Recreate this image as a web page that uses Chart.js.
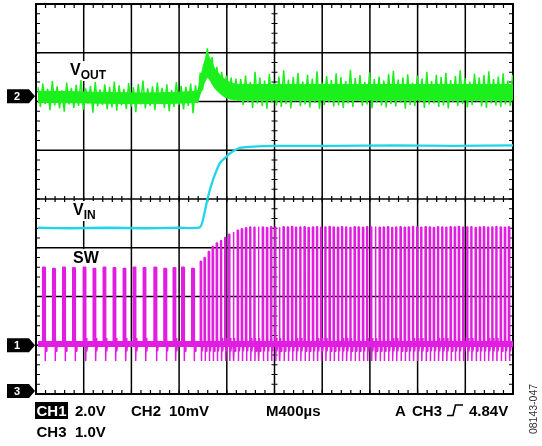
<!DOCTYPE html>
<html><head><meta charset="utf-8">
<script src="https://cdn.jsdelivr.net/npm/chart.js@4.4.0/dist/chart.umd.min.js"></script>
<style>html,body{margin:0;padding:0;background:#fff;}#wrap{width:542px;height:446px;position:relative;}</style>
</head><body><div id="wrap"><canvas id="c" width="542" height="446"></canvas></div>
<script>
const timePerDivUs = 400;          // M400us
const xDivs = 10, yDivs = 8;
// channel ground markers (in divisions from screen centre) and scales
const ch1GroundDiv = -3.0, ch1VoltsPerDiv = 2.0;   // SW
const ch2GroundDiv = 2.11, ch2MvPerDiv = 10;       // VOUT
const ch3GroundDiv = -3.94, ch3VoltsPerDiv = 1.0;  // VIN

// VOUT (CH2) noise samples in mV, one every 20 us starting at 17 us
const voutStartUs = 17, voutStepUs = 20;
const voutMv = [
 1.8,-2.2,2.6,-1.6,1.5,-2.9,3.1,-1.9,2.0,-2.5,1.2,-3.2,2.8,-1.7,1.7,-2.4,2.3,-2.0,3.3,-2.8,
 1.6,-1.5,2.1,-3.4,2.9,-2.1,1.4,-1.8,2.4,-2.7,1.9,-2.3,3.0,-3.0,2.2,-1.9,1.5,-2.6,2.7,-2.2,
 1.8,-3.3,2.5,-1.7,3.2,-2.5,1.6,-2.0,2.0,-2.9,2.8,-1.6,1.7,-2.4,2.4,-3.1,1.3,-2.2,2.9,-1.8,
 2.1,-2.7,1.9,-2.0,2.6,-3.5,
 2.2,-1.4,4.8,1.2,6.5,9.8,4.5,8.0,2.5,6.0,1.5,5.0,0.8,4.2,0.0,3.8,-0.8,3.6,-1.0,
 3.5,-1.8,4.2,-1.2,2.9,-2.4,5.0,-1.5,3.8,-2.0,3.2,-2.6,4.6,-1.3,2.7,-1.9,4.0,-2.2,5.3,-1.6,
 3.4,-2.5,3.9,-1.1,4.8,-2.0,3.0,-1.7,4.4,-2.3,3.6,-1.4,5.1,-2.6,2.8,-1.8,4.1,-1.2,3.3,-2.1,
 4.7,-1.9,3.9,-2.4,3.1,-1.5,5.4,-2.2,3.7,-1.0,4.3,-2.0,2.9,-1.7,4.9,-2.5,3.5,-1.3,4.0,-1.9,
 3.2,-2.3,4.6,-1.6,5.2,-2.1,3.4,-1.4,3.8,-2.6,4.5,-1.8,2.8,-2.0,4.2,-1.2,3.6,-2.4,5.0,-1.7,
 3.1,-1.5,4.4,-2.2,3.9,-1.9,4.8,-2.5,3.3,-1.3,4.1,-2.0,5.3,-1.6,3.7,-2.3,3.0,-1.8,4.6,-1.1,
 3.8,-2.1,4.3,-2.4,5.1,-1.5,3.5,-1.9,4.0,-2.2,4.7,-1.7,3.2,-2.0,4.4
];
// VOUT dense core of the noise band (mV)
const voutCoreUs = [17,1340,1380,1410,1440,1470,1500,1550,1600,1650,1700,4000];
const voutCoreHi = [1.0,1.0,3.8,6.8,8.4,7.2,5.6,4.2,3.2,2.6,2.4,2.4];
const voutCoreLo = [-1.3,-1.3,0.6,2.6,3.8,2.8,1.6,0.4,-0.4,-0.7,-0.8,-0.8];

// VIN (CH3) in volts
const vinUs = [17,300,600,900,1200,1375,1409,1442,1484,1543,1593,1627,1711,1795,2004,2500,3000,3500,4000];
const vinV  = [3.35,3.34,3.35,3.34,3.35,3.36,3.61,3.98,4.33,4.68,4.80,4.88,4.99,5.01,5.03,5.03,5.04,5.03,5.04];

// SW (CH1): switching pulse start times (us) and pulse top level (V)
const swPreUs  = [56,140,224,308,397,480,564,648,732,816,900,990,1073,1151,1222,1306];
const swPreTop = [3.2,3.15,3.2,3.18,3.2,3.15,3.2,3.18,3.15,3.2,3.18,3.2,3.15,3.18,3.2,3.15];
const swPreWidthUs = 20;
const swPostUs = [1378,1410,1445,1478,1512,1548,1583,1617,1652,1688,1722,1757,1793,1828,1862,1898,1933,1967,
 2003,2038,2072,2108,2143,2177,2213,2248,2282,2318,2353,2387,2423,2458,2492,2528,2563,2597,2633,2668,2702,
 2738,2773,2807,2843,2878,2912,2948,2983,3017,3053,3088,3122,3158,3193,3227,3263,3298,3332,3368,3403,3437,
 3473,3508,3542,3578,3613,3647,3683,3718,3752,3788,3823,3857,3893,3928,3962];
const swPostTop = [3.45,3.6,3.85,4.05,4.2,4.3,4.42,4.55,4.65,4.72,4.78,4.82,4.85,4.84,4.86,4.85,4.83,4.86,
 4.85,4.84,4.86,4.85,4.87,4.84,4.85,4.86,4.83,4.85,4.86,4.84,4.85,4.87,4.85,4.84,4.86,4.85,4.83,4.86,4.85,
 4.84,4.86,4.85,4.87,4.84,4.85,4.86,4.83,4.85,4.86,4.84,4.85,4.87,4.85,4.84,4.86,4.85,4.83,4.86,4.85,4.84,
 4.86,4.85,4.87,4.84,4.85,4.86,4.83,4.85,4.86,4.84,4.85,4.87,4.85,4.84,4.86];
const swPostWidthUs = 8;
// ringing after each falling edge: time offsets (us) and levels (V)
const ringUs = [0,4,9,15];
const ringV  = [-0.65,0.3,-0.25,0.05];

// ---------------- build tables ----------------
const voutPts = voutMv.map((v,i)=>({x: voutStartUs + i*voutStepUs, y: v}));
const voutHiPts = voutCoreUs.map((t,i)=>({x:t,y:voutCoreHi[i]}));
const voutLoPts = voutCoreUs.map((t,i)=>({x:t,y:voutCoreLo[i]}));
const vinPts = vinUs.map((t,i)=>({x:t, y:vinV[i]}));
function pulses(times, tops, w){
  const out=[];
  times.forEach((t,i)=>{
    out.push({x:t,y:0.05},{x:t,y:tops[i]},{x:t+w,y:tops[i]});
    ringUs.forEach((d,k)=>out.push({x:t+w+d,y:ringV[k]}));
  });
  return out;
}
const swPts = [{x:17,y:0.05}].concat(pulses(swPreUs,swPreTop,swPreWidthUs), pulses(swPostUs,swPostTop,swPostWidthUs), [{x:4000,y:0.05}]);

const GREEN='#1cf01c', CYAN='#1fd6e8', MAG='#e01ee0';
const FONT='"Liberation Sans", Arial, sans-serif';

// graticule + labels plugin
const scopePlugin = {
  id:'scope',
  beforeDatasetsDraw(chart){
    const {ctx, chartArea:a, scales} = chart;
    const x = scales.x, g = scales.yg;
    ctx.save();
    ctx.strokeStyle='#000';
    ctx.lineWidth=1.5;
    for(let i=1;i<xDivs;i++){
      const px = x.getPixelForValue(i*timePerDivUs);
      ctx.beginPath();ctx.moveTo(px,a.top);ctx.lineTo(px,a.bottom);ctx.stroke();
    }
    for(let j=-yDivs/2+1;j<yDivs/2;j++){
      const py = g.getPixelForValue(j);
      ctx.beginPath();ctx.moveTo(a.left,py);ctx.lineTo(a.right,py);ctx.stroke();
    }
    ctx.lineWidth=1.2;
    const cx = x.getPixelForValue(xDivs/2*timePerDivUs), cy = g.getPixelForValue(0);
    for(let i=0;i<=xDivs*5;i++){
      const px = x.getPixelForValue(i*timePerDivUs/5);
      ctx.beginPath();
      ctx.moveTo(px,cy-3);ctx.lineTo(px,cy+3);
      ctx.moveTo(px,a.top);ctx.lineTo(px,a.top+4);
      ctx.moveTo(px,a.bottom);ctx.lineTo(px,a.bottom-4);
      ctx.stroke();
    }
    for(let j=0;j<=yDivs*5;j++){
      const py = g.getPixelForValue(-yDivs/2 + j/5);
      ctx.beginPath();
      ctx.moveTo(cx-3,py);ctx.lineTo(cx+3,py);
      ctx.moveTo(a.left,py);ctx.lineTo(a.left+4,py);
      ctx.moveTo(a.right,py);ctx.lineTo(a.right-4,py);
      ctx.stroke();
    }
    ctx.lineWidth=2;
    ctx.strokeRect(a.left,a.top,a.right-a.left,a.bottom-a.top);
    function label(main, sub, lx, ly){
      ctx.font='bold 16px '+FONT;
      const w1 = ctx.measureText(main).width;
      ctx.font='bold 12px '+FONT;
      const w2 = sub?ctx.measureText(sub).width:0;
      ctx.fillStyle='#fff';
      ctx.fillRect(lx-5, ly-14, w1+w2+10, 20);
      ctx.fillStyle='#000';
      ctx.textBaseline='alphabetic';
      ctx.font='bold 16px '+FONT;
      ctx.fillText(main, lx, ly);
      if(sub){ctx.font='bold 12px '+FONT;ctx.fillText(sub, lx+w1, ly+4);}
    }
    label('V','OUT',70,75);
    label('V','IN',73,215);
    label('SW','',73,263);
    ctx.restore();
  },
  afterDraw(chart){
    const {ctx, scales} = chart;
    ctx.save();
    function marker(txt, py){
      ctx.fillStyle='#000';
      ctx.beginPath();
      ctx.moveTo(7,py-7);ctx.lineTo(29,py-7);ctx.lineTo(35,py);ctx.lineTo(29,py+7);ctx.lineTo(7,py+7);ctx.closePath();ctx.fill();
      ctx.fillStyle='#fff';ctx.font='bold 11px '+FONT;
      ctx.textAlign='center';ctx.textBaseline='middle';
      ctx.fillText(txt,17,py+0.5);
    }
    marker('2', scales.y2.getPixelForValue(0));
    marker('1', scales.y1.getPixelForValue(0));
    marker('3', scales.y3.getPixelForValue(0));
    ctx.textAlign='left';ctx.textBaseline='alphabetic';
    ctx.font='bold 15px '+FONT;
    ctx.fillStyle='#000';
    const w = ctx.measureText('CH1').width;
    ctx.fillRect(35,402,w+3,17);
    ctx.fillStyle='#fff';ctx.fillText('CH1',36.5,416);
    ctx.fillStyle='#000';
    ctx.fillText('2.0V',75,416);
    ctx.fillText('CH2',131,416);
    ctx.fillText('10mV',169,416);
    ctx.fillText('M400µs',266,416);
    ctx.fillText('A',395,416);
    ctx.fillText('CH3',412,416);
    ctx.lineWidth=1.6;ctx.strokeStyle='#000';
    ctx.beginPath();ctx.moveTo(447,415.5);ctx.lineTo(453,415.5);ctx.lineTo(455.5,405);ctx.lineTo(463,405);ctx.stroke();
    ctx.fillText('4.84V',469,416);
    ctx.fillText('CH3',36.5,437);
    ctx.fillText('1.0V',75,437);
    ctx.save();
    ctx.translate(537,409);ctx.rotate(-Math.PI/2);
    ctx.font='10.5px '+FONT;ctx.fillStyle='#333';ctx.textAlign='center';
    ctx.fillText('08143-047',0,0);
    ctx.restore();
    ctx.restore();
  }
};

const half = yDivs/2;
new Chart(document.getElementById('c'), {
  type:'line',
  data:{datasets:[
    {label:'SW', data:swPts, yAxisID:'y1', borderColor:MAG, backgroundColor:MAG, borderWidth:1.5, pointRadius:0, tension:0, fill:'origin'},
    {label:'SW ground', data:[{x:17,y:0.05},{x:4000,y:0.05}], yAxisID:'y1', borderColor:MAG, borderWidth:6, pointRadius:0, fill:false},
    {label:'VIN', data:vinPts, yAxisID:'y3', borderColor:CYAN, borderWidth:2.3, pointRadius:0, tension:0.2, fill:false},
    {label:'VOUT core hi', data:voutHiPts, yAxisID:'y2', borderColor:GREEN, backgroundColor:GREEN, borderWidth:1, pointRadius:0, tension:0.3, fill:false},
    {label:'VOUT core lo', data:voutLoPts, yAxisID:'y2', borderColor:GREEN, backgroundColor:GREEN, borderWidth:1, pointRadius:0, tension:0.3, fill:'-1'},
    {label:'VOUT', data:voutPts, yAxisID:'y2', borderColor:GREEN, borderWidth:1.5, pointRadius:0, tension:0, fill:false}
  ]},
  options:{
    responsive:false, animation:false, devicePixelRatio:1,
    layout:{padding:{left:36,top:4,right:29,bottom:52}},
    plugins:{legend:{display:false},tooltip:{enabled:false}},
    elements:{line:{borderJoinStyle:'bevel'}},
    scales:{
      x:{type:'linear',min:0,max:xDivs*timePerDivUs,display:false},
      yg:{type:'linear',min:-half,max:half,display:false},
      y1:{type:'linear',min:(-half-ch1GroundDiv)*ch1VoltsPerDiv,max:(half-ch1GroundDiv)*ch1VoltsPerDiv,display:false},
      y2:{type:'linear',min:(-half-ch2GroundDiv)*ch2MvPerDiv,max:(half-ch2GroundDiv)*ch2MvPerDiv,display:false},
      y3:{type:'linear',min:(-half-ch3GroundDiv)*ch3VoltsPerDiv,max:(half-ch3GroundDiv)*ch3VoltsPerDiv,display:false}
    }
  },
  plugins:[scopePlugin]
});
</script></body></html>
